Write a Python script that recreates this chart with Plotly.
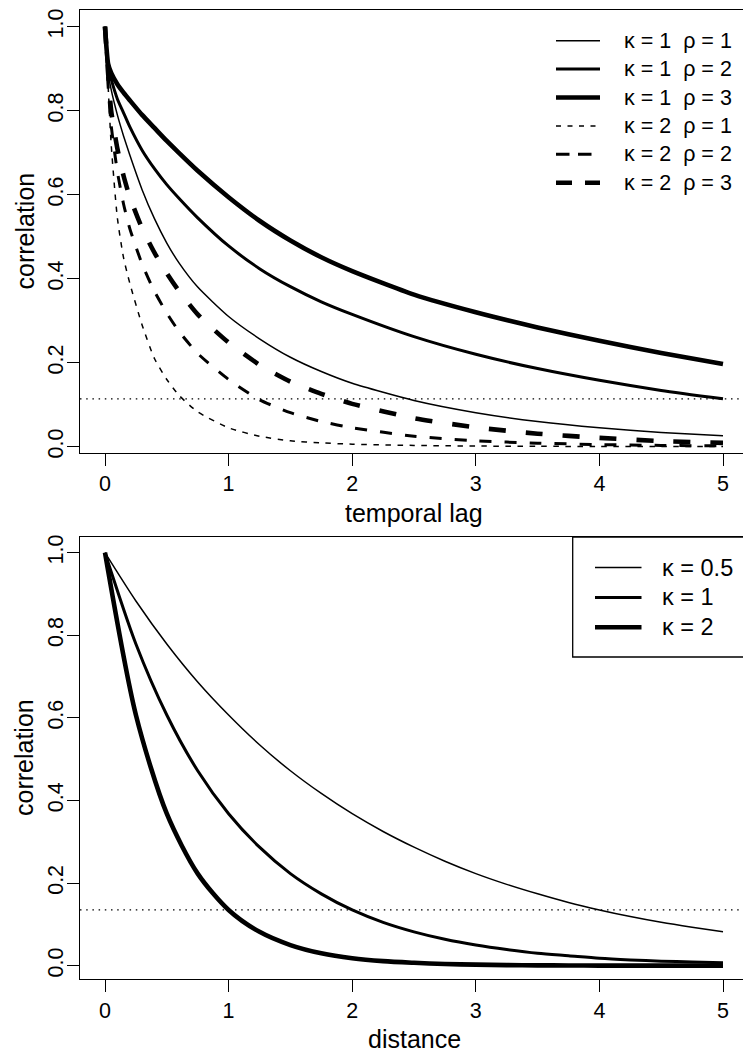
import plotly.graph_objects as go

# ---------------- data ----------------
# top panel: temporal correlation
lag = [0, 0.025, 0.05, 0.1, 0.15, 0.2, 0.3, 0.4, 0.5, 0.6, 0.75, 1.0, 1.25, 1.5,
       1.75, 2.0, 2.5, 3.0, 3.5, 4.0, 4.5, 5.0]
corr_k1_r1 = [1, 0.89, 0.85, 0.79, 0.74, 0.695, 0.612, 0.543, 0.485, 0.437, 0.38, 0.31,
              0.257, 0.213, 0.179, 0.151, 0.11, 0.081, 0.06, 0.045, 0.034, 0.026]
corr_k1_r2 = [1, 0.905, 0.875, 0.828, 0.795, 0.762, 0.706, 0.662, 0.624, 0.591, 0.545, 0.478,
              0.424, 0.381, 0.345, 0.315, 0.262, 0.22, 0.186, 0.158, 0.134, 0.114]
corr_k1_r3 = [1, 0.912, 0.89, 0.863, 0.843, 0.825, 0.79, 0.759, 0.728, 0.699, 0.657, 0.594,
              0.538, 0.491, 0.451, 0.418, 0.362, 0.32, 0.284, 0.252, 0.223, 0.197]
corr_k2_r1 = [1, 0.86, 0.72, 0.545, 0.45, 0.39, 0.29, 0.21, 0.16, 0.122, 0.083, 0.045,
              0.025, 0.014, 0.009, 0.006, 0.003, 0.0015, 0.001, 0.0005, 0.0003, 0.0002]
corr_k2_r2 = [1, 0.86, 0.765, 0.655, 0.578, 0.52, 0.435, 0.37, 0.318, 0.274, 0.222, 0.16,
              0.112, 0.081, 0.06, 0.045, 0.025, 0.014, 0.0085, 0.005, 0.003, 0.002]
corr_k2_r3 = [1, 0.89, 0.80, 0.71, 0.645, 0.595, 0.52, 0.462, 0.413, 0.37, 0.315, 0.248,
              0.195, 0.155, 0.126, 0.102, 0.068, 0.046, 0.031, 0.021, 0.0135, 0.009]
temporal_names = ["κ = 1\u00a0\u00a0ρ = 1", "κ = 1\u00a0\u00a0ρ = 2", "κ = 1\u00a0\u00a0ρ = 3",
                  "κ = 2\u00a0\u00a0ρ = 1", "κ = 2\u00a0\u00a0ρ = 2", "κ = 2\u00a0\u00a0ρ = 3"]
temporal_ref = 0.114

# bottom panel: spatial correlation
dist = [0, 0.25, 0.5, 0.75, 1.0, 1.25, 1.5, 1.75, 2.0, 2.25, 2.5, 2.75, 3.0, 3.25,
        3.5, 3.75, 4.0, 4.25, 4.5, 4.75, 5.0]
corr_k05 = [1, 0.883, 0.779, 0.687, 0.607, 0.535, 0.472, 0.417, 0.368, 0.325, 0.287,
            0.253, 0.223, 0.197, 0.174, 0.153, 0.135, 0.119, 0.105, 0.093, 0.082]
corr_k1 = [1, 0.779, 0.607, 0.472, 0.368, 0.287, 0.223, 0.174, 0.135, 0.105, 0.082,
           0.064, 0.05, 0.039, 0.03, 0.024, 0.018, 0.014, 0.011, 0.009, 0.007]
corr_k2 = [1, 0.607, 0.368, 0.223, 0.135, 0.082, 0.05, 0.03, 0.018, 0.011, 0.007,
           0.004, 0.0025, 0.0015, 0.0009, 0.0006, 0.0003, 0.0002, 0.0001, 0.0001, 0.00005]
spatial_names = ["κ = 0.5", "κ = 1", "κ = 2"]
spatial_ref = 0.1353

x_ticks = [0, 1, 2, 3, 4, 5]
y_ticks = [0.0, 0.2, 0.4, 0.6, 0.8, 1.0]
y_ticktext = ["0.0", "0.2", "0.4", "0.6", "0.8", "1.0"]

# ---------------- geometry ----------------
W, H = 743, 1054
L, R, T, B = 80, 0, 10, 75
PW, PH = W - L - R, H - T - B


def px(x):
    return (x - L) / PW


def py(y):
    return (H - B - y) / PH


FONT = "Liberation Sans, Arial, Helvetica, sans-serif"
widths = [1.5, 3.0, 4.6]
curve_dash = ["solid", "solid", "solid", "5.5px,6.5px", "12px,13px", "17px,20px"]
legend_dash = ["solid", "solid", "solid", "5px,6.5px", "13.5px,8.5px", "16px,13px"]
temporal_width = widths + widths

fig = go.Figure()

temporal_series = [corr_k1_r1, corr_k1_r2, corr_k1_r3, corr_k2_r1, corr_k2_r2, corr_k2_r3]
for name, ys, w, d in zip(temporal_names, temporal_series, temporal_width, curve_dash):
    fig.add_trace(go.Scatter(x=lag, y=ys, mode="lines", name=name, showlegend=False,
                             line=dict(color="black", width=w, dash=d,
                                       shape="spline", smoothing=0.6),
                             xaxis="x", yaxis="y"))

spatial_series = [corr_k05, corr_k1, corr_k2]
for name, ys, w in zip(spatial_names, spatial_series, widths):
    fig.add_trace(go.Scatter(x=dist, y=ys, mode="lines", name=name, showlegend=False,
                             line=dict(color="black", width=w, shape="spline", smoothing=0.8),
                             xaxis="x2", yaxis="y2"))

axis_common = dict(showgrid=False, zeroline=False, showline=True, linecolor="black",
                   linewidth=1.3, ticks="outside", ticklen=12, tickwidth=1.3,
                   tickcolor="black", tickfont=dict(family=FONT, size=21.5, color="black"))

xr = [(L - 105) / 123.6, (W - 105) / 123.6]
top_dom = [py(452.5), 1.0]
bot_dom = [0.0, py(536.7)]

fig.update_layout(
    width=W, height=H, margin=dict(l=L, r=R, t=T, b=B),
    paper_bgcolor="white", plot_bgcolor="white", showlegend=False,
    xaxis=dict(domain=[0, 1], anchor="y", range=xr, tickvals=x_ticks, mirror=True,
               **axis_common),
    yaxis=dict(domain=top_dom, anchor="x", range=[-0.0138, 1.0398], tickvals=y_ticks,
               ticktext=y_ticktext, tickangle=-90, ticklabelstandoff=-5, mirror=False,
               **axis_common),
    xaxis2=dict(domain=[0, 1], anchor="y2", range=xr, tickvals=x_ticks, mirror=True,
                **axis_common),
    yaxis2=dict(domain=bot_dom, anchor="x2", range=[-0.0322, 1.0387], tickvals=y_ticks,
                ticktext=y_ticktext, tickangle=-90, ticklabelstandoff=-5, mirror=False,
                **axis_common),
)

shapes = []
annotations = []

# reference (dotted) lines
shapes.append(dict(type="line", xref="x domain", yref="y", x0=0, x1=1,
                   y0=temporal_ref, y1=temporal_ref,
                   line=dict(color="black", width=1.2, dash="1.5px,4.7px")))
shapes.append(dict(type="line", xref="x2 domain", yref="y2", x0=0, x1=1,
                   y0=spatial_ref, y1=spatial_ref,
                   line=dict(color="black", width=1.2, dash="1.5px,4.7px")))

# top legend (no frame)
for i, (name, w, d) in enumerate(zip(temporal_names, temporal_width, legend_dash)):
    yc = 40.7 + 28.4 * i
    shapes.append(dict(type="line", xref="paper", yref="paper", x0=px(556), x1=px(600),
                       y0=py(yc), y1=py(yc), line=dict(color="black", width=w, dash=d)))
    annotations.append(dict(xref="paper", yref="paper", x=px(622), y=py(yc), text=name,
                            showarrow=False, xanchor="left", yanchor="middle",
                            font=dict(family=FONT, size=21.5, color="black")))

# bottom legend (framed)
shapes.append(dict(type="rect", xref="paper", yref="paper", x0=px(572.7), x1=px(770),
                   y0=py(657), y1=py(537), line=dict(color="black", width=1.3),
                   fillcolor="rgba(0,0,0,0)"))
for i, (name, w) in enumerate(zip(spatial_names, widths)):
    yc = 567.5 + 29.9 * i
    shapes.append(dict(type="line", xref="paper", yref="paper", x0=px(595), x1=px(641.5),
                       y0=py(yc), y1=py(yc), line=dict(color="black", width=w)))
    annotations.append(dict(xref="paper", yref="paper", x=px(660), y=py(yc), text=name,
                            showarrow=False, xanchor="left", yanchor="middle",
                            font=dict(family=FONT, size=23.5, color="black")))

# axis titles
title_font = dict(family=FONT, size=25, color="black")
annotations += [
    dict(xref="paper", yref="paper", x=px(414), y=py(513), text="temporal lag",
         showarrow=False, xanchor="center", yanchor="middle", font=title_font, borderpad=0),
    dict(xref="paper", yref="paper", x=px(414), y=py(1039), text="distance",
         showarrow=False, xanchor="center", yanchor="middle", font=title_font, borderpad=0),
    dict(xref="paper", yref="paper", x=px(24), y=py(231.5), text="correlation",
         showarrow=False, xanchor="center", yanchor="middle", textangle=-90, font=title_font),
    dict(xref="paper", yref="paper", x=px(24), y=py(758), text="correlation",
         showarrow=False, xanchor="center", yanchor="middle", textangle=-90, font=title_font),
]

fig.update_layout(shapes=shapes, annotations=annotations)
fig.write_html("out.html")
